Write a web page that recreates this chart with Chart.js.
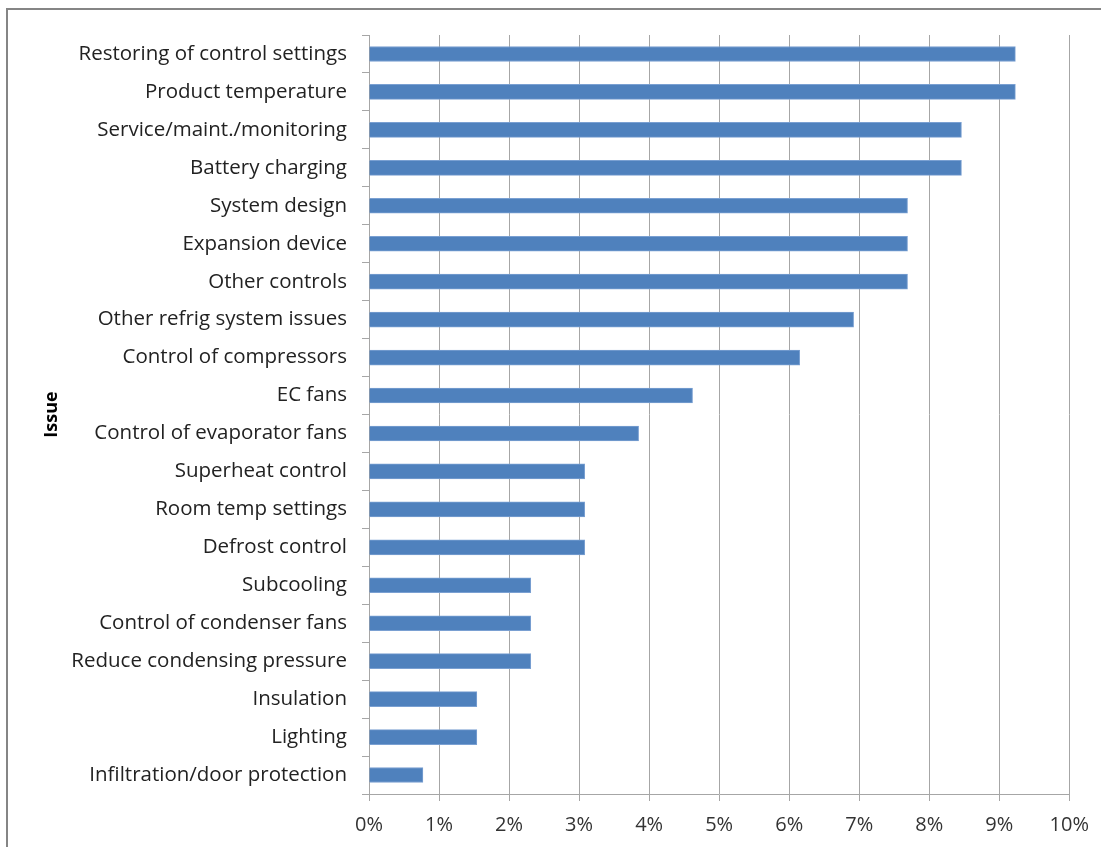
<!DOCTYPE html>
<html>
<head>
<meta charset="utf-8">
<script src="https://cdn.jsdelivr.net/npm/chart.js@4"></script>
<style>
  body { margin: 0; background: #fff; }
  #wrap { position: relative; width: 1101px; height: 847px; overflow: hidden; }
  #frame { position: absolute; left: 6px; top: 8px; width: 1200px; height: 1000px; border: 2px solid #858585; box-sizing: border-box; }
  canvas { position: absolute; left: 0; top: 0; }
</style>
</head>
<body>
<div id="wrap">
  <div id="frame"></div>
  <canvas id="chart-issue" width="1101" height="847"></canvas>
</div>
<script>
const kategori = [
    "Restoring of control settings",
    "Product temperature",
    "Service/maint./monitoring",
    "Battery charging",
    "System design",
    "Expansion device",
    "Other controls",
    "Other refrig system issues",
    "Control of compressors",
    "EC fans",
    "Control of evaporator fans",
    "Superheat control",
    "Room temp settings",
    "Defrost control",
    "Subcooling",
    "Control of condenser fans",
    "Reduce condensing pressure",
    "Insulation",
    "Lighting",
    "Infiltration/door protection"
];
// share of sites, percent
const persen = [9.23, 9.23, 8.46, 8.46, 7.69, 7.69, 7.69, 6.92, 6.15, 4.62,
    3.85, 3.08, 3.08, 3.08, 2.31, 2.31, 2.31, 1.54, 1.54, 0.77];
const tickX = [0, 1, 2, 3, 4, 5, 6, 7, 8, 9, 10];

const fontLabel = { family: "'Open Sans', Lato, sans-serif", size: 20.5 };

new Chart(document.getElementById("chart-issue"), {
    type: "bar",
    data: {
        labels: kategori,
        datasets: [{
            label: "Issue",
            data: persen,
            backgroundColor: "#4f81bd",
            borderColor: "#7aa0d2",
            borderWidth: 1,
            barThickness: 15
        }]
    },
    options: {
        indexAxis: "y",
        responsive: false,
        animation: false,
        layout: { padding: { left: 0, right: 31, top: 35, bottom: 0 } },
        plugins: { legend: { display: false }, tooltip: { enabled: false } },
        scales: {
            x: {
                min: 0,
                max: 10,
                afterBuildTicks: (axis) => { axis.ticks = tickX.map(v => ({ value: v })); },
                afterFit: (axis) => { axis.height = 53; },
                grid: { color: "#a6a6a6", lineWidth: 1, tickLength: 7, drawTicks: true },
                border: { color: "#a6a6a6", width: 1 },
                ticks: {
                    color: "#333",
                    font: { family: "'Open Sans', Lato, sans-serif", size: 20 },
                    padding: 12,
                    maxRotation: 0,
                    callback: (v) => v + "%"
                }
            },
            y: {
                afterFit: (axis) => { axis.width = 369; },
                grid: { display: true, drawOnChartArea: false, offset: true, color: "#a6a6a6", tickLength: 7 },
                border: { color: "#a6a6a6", width: 1 },
                ticks: { color: "#222", font: fontLabel, padding: 15, autoSkip: false },
                title: {
                    display: true,
                    text: "Issue",
                    color: "#000",
                    font: { family: "'Open Sans', Lato, sans-serif", size: 18, weight: "bold" },
                    padding: { top: 41, bottom: 0 }
                }
            }
        }
    }
});
</script>
</body>
</html>
